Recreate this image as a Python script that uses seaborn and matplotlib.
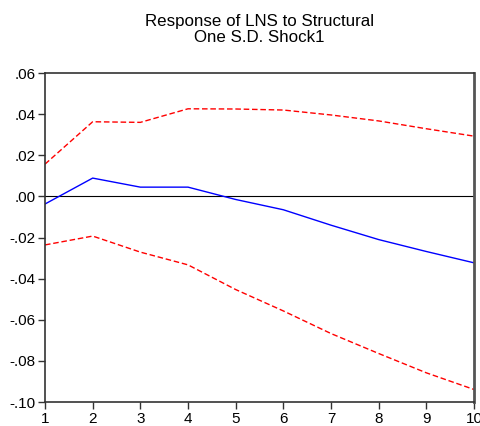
import pandas as pd
import matplotlib
matplotlib.use("Agg")
import matplotlib.pyplot as plt
import seaborn as sns

# Impulse response values
periods = [1, 2, 3, 4, 5, 6, 7, 8, 9, 10]
response = [-0.0037, 0.0089, 0.0045, 0.0045, -0.0015, -0.0065, -0.0140, -0.0210, -0.0268, -0.0323]
upper_band = [0.0157, 0.0363, 0.0360, 0.0426, 0.0425, 0.0420, 0.0396, 0.0367, 0.0329, 0.0293]
lower_band = [-0.0236, -0.0193, -0.0271, -0.0333, -0.0453, -0.0557, -0.0667, -0.0764, -0.0858, -0.0939]
y_ticks = [-0.10, -0.08, -0.06, -0.04, -0.02, 0.00, 0.02, 0.04, 0.06]
y_labels = ["-.10", "-.08", "-.06", "-.04", "-.02", ".00", ".02", ".04", ".06"]

data = pd.DataFrame({"period": periods, "response": response,
                     "upper": upper_band, "lower": lower_band})

sns.set_style("ticks")
plt.rcParams['font.family'] = ['Liberation Sans', 'DejaVu Sans']
plt.rcParams['text.color'] = 'black'
plt.rcParams['xtick.labelcolor'] = 'black'
plt.rcParams['ytick.labelcolor'] = 'black'

fig = plt.figure(figsize=(4.81, 4.26), dpi=100)
ax = fig.add_axes([0.0936, 0.0563, 0.8918, 0.7723])

ax.axhline(0, color="black", linewidth=0.8, zorder=1)
sns.lineplot(data=data, x="period", y="response", color="blue", linewidth=1.0, ax=ax)
sns.lineplot(data=data, x="period", y="upper", color="red", linewidth=1.0,
             linestyle=(0, (4, 2)), ax=ax)
sns.lineplot(data=data, x="period", y="lower", color="red", linewidth=1.0,
             linestyle=(0, (4, 2)), ax=ax)

ax.set_xlim(1, 10)
ax.set_ylim(-0.10, 0.06)
ax.set_xticks(periods)
ax.set_yticks(y_ticks)
ax.set_yticklabels(y_labels)
ax.set_xlabel("")
ax.set_ylabel("")
ax.tick_params(axis="both", labelsize=11, length=5, width=1, color="#333333",
               labelcolor="black", direction="out", pad=2)
for side in ["top", "bottom", "left", "right"]:
    ax.spines[side].set_visible(True)
    ax.spines[side].set_linewidth(1.2)
    ax.spines[side].set_color("#333333")
ax.spines["right"].set_linewidth(2)
ax.spines["right"].set_color("#555555")

ax.set_title("Response of LNS to Structural\nOne S.D. Shock1", fontsize=12.2, pad=22,
             linespacing=1.1, color="black")

fig.savefig("out.png", dpi=100)
